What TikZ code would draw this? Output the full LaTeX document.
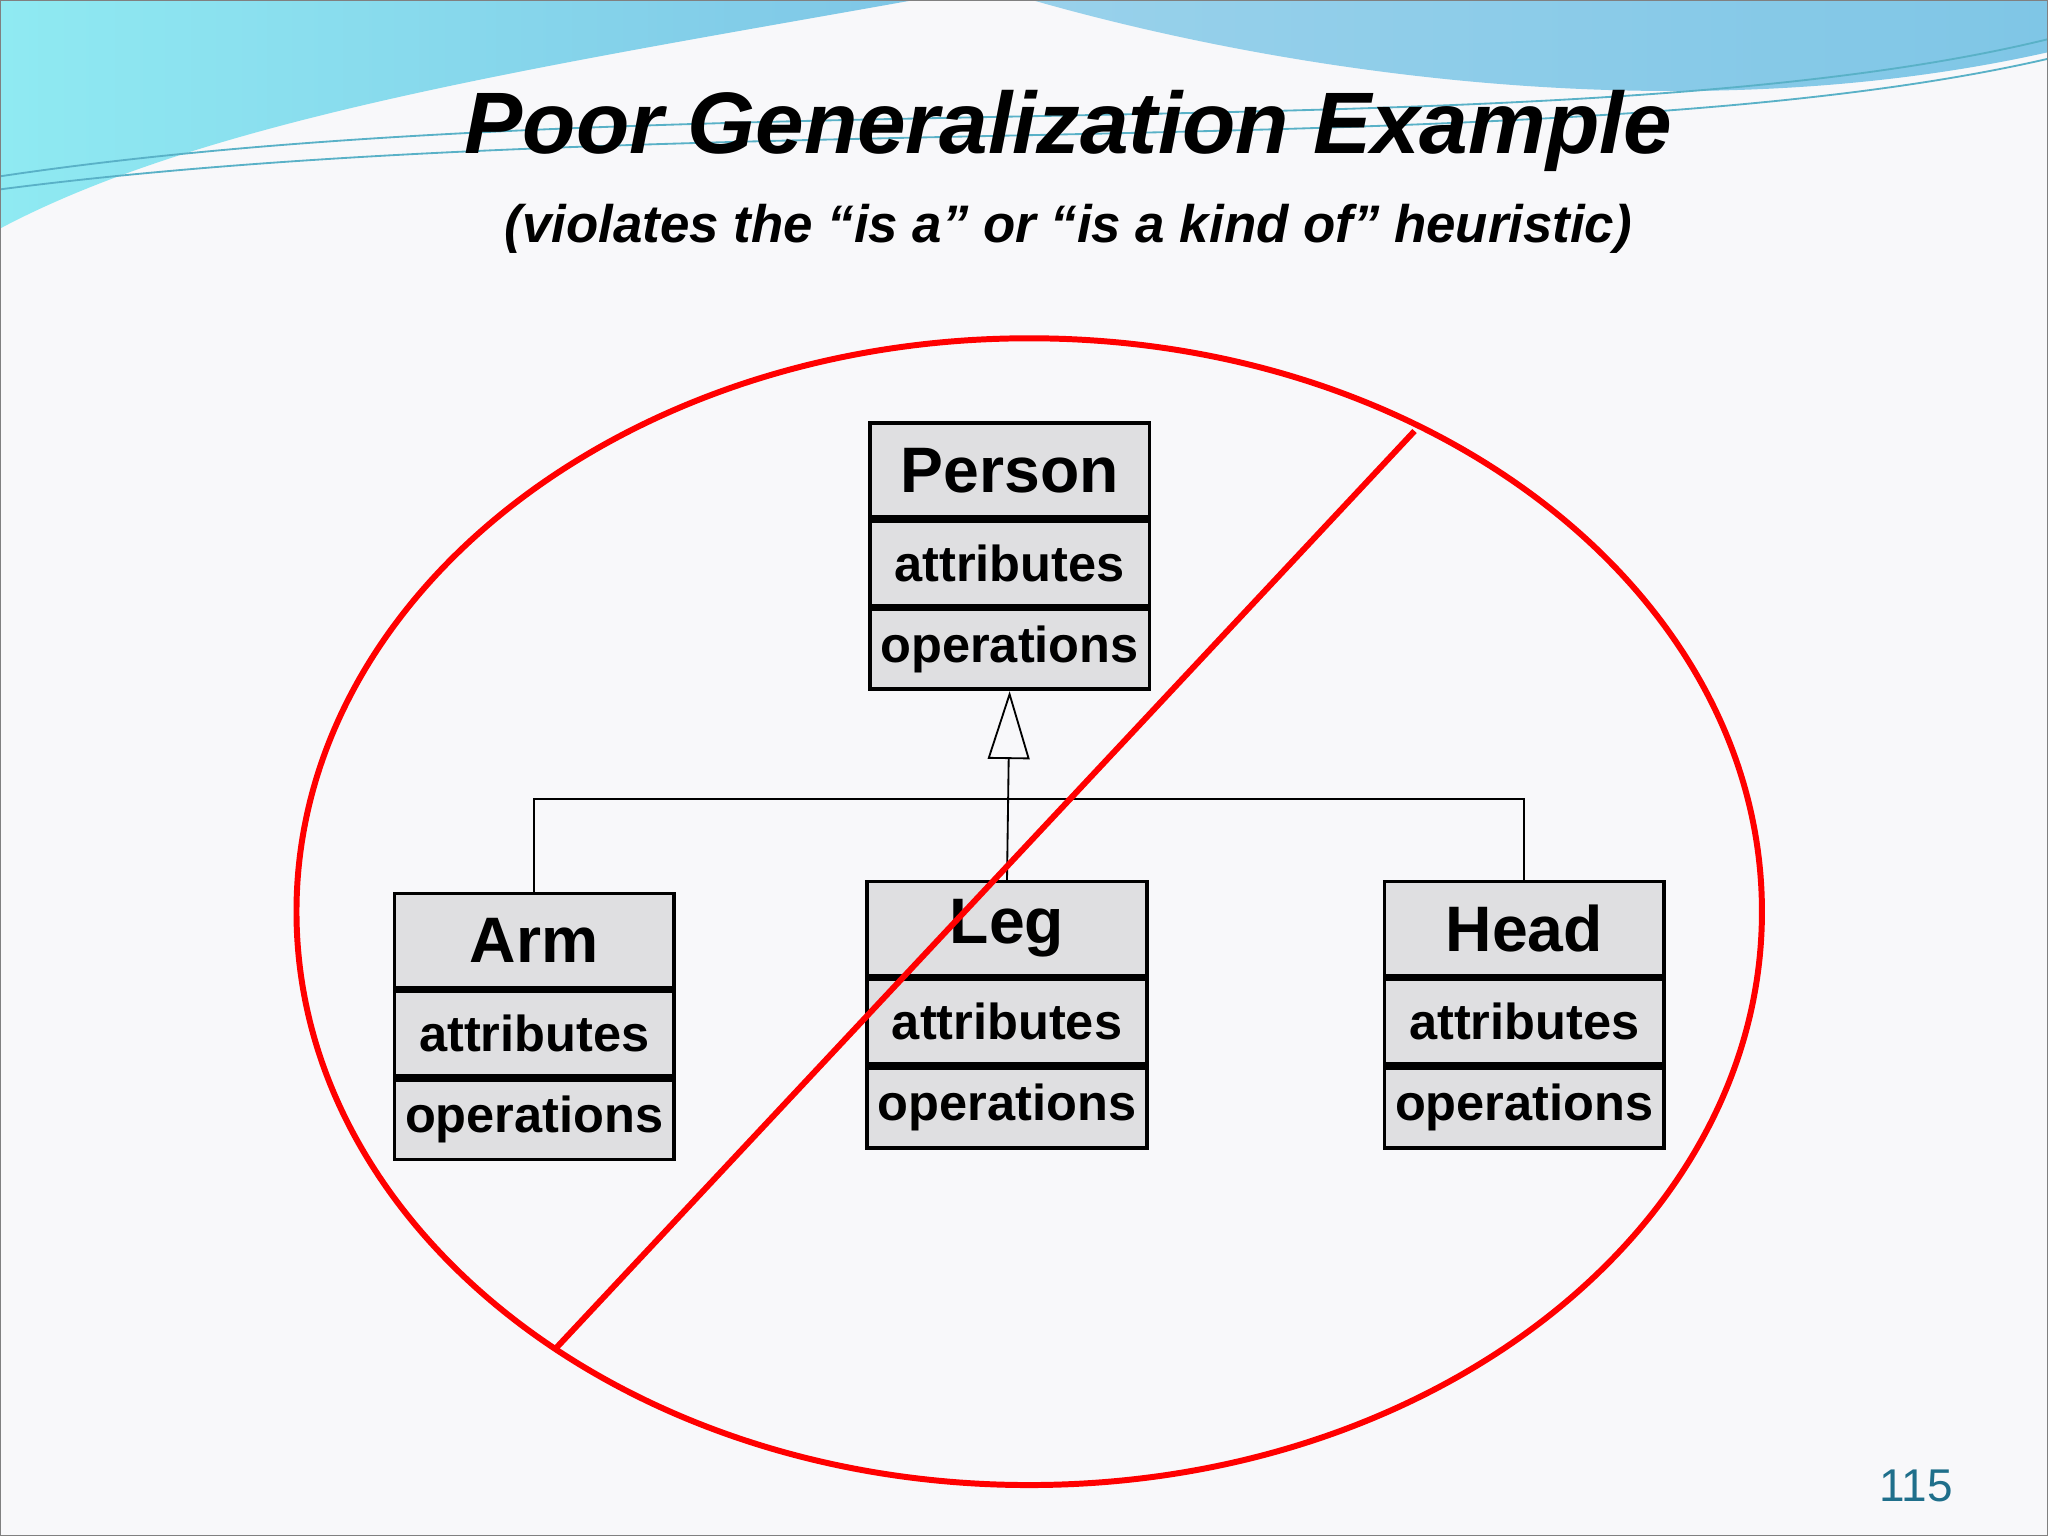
\documentclass[tikz,border=0pt]{standalone}
\usepackage{fontspec}
\setmainfont{Liberation Sans}
\usetikzlibrary{positioning,arrows.meta}
\definecolor{slidebg}{HTML}{F8F8FA}
\definecolor{boxgray}{HTML}{DFDFE1}
\definecolor{wavecyan}{HTML}{8FEAF2}
\definecolor{waveblue}{HTML}{7FC6E6}
\definecolor{pageteal}{HTML}{1F6F8B}
\tikzset{
  part/.style={draw, thick, fill=boxgray, minimum width=2.14cm, inner sep=0pt,
    font=\fontsize{11}{13}\selectfont\bfseries},
  title/.style={draw, thick, fill=boxgray, minimum width=2.14cm, minimum height=0.72cm,
    inner sep=0pt, font=\fontsize{14}{16}\selectfont\bfseries},
  attr/.style={part, minimum height=0.65cm},
  ops/.style={part, minimum height=0.61cm},
  cross/.style={red, line width=1.3pt}
}
\begin{document}
\begin{tikzpicture}[x=0.01cm, y=-0.01cm]
  \useasboundingbox (0,0) rectangle (1568,1176);
  \fill[slidebg] (0,0) rectangle (1568,1176);
  % top waves
  \shade[left color=wavecyan, right color=waveblue]
    (0,0) -- (700,0) .. controls (420,50) and (160,90) .. (0,175) -- cycle;
  \shade[left color=waveblue!80, right color=waveblue]
    (790,0) -- (1568,0) -- (1568,40) .. controls (1300,100) and (1000,60) .. (790,0) -- cycle;
  \draw[waveblue!70!teal, thin] (0,135) .. controls (500,60) and (1200,120) .. (1568,30);
  \draw[waveblue!70!teal, thin] (0,145) .. controls (500,80) and (1200,130) .. (1568,45);
  \draw[gray] (0,0) rectangle (1568,1176);

  \node (heading) at (818,100) {\fontsize{19}{22}\selectfont\bfseries\itshape Poor Generalization Example};
  \node[below=0pt of heading] (sub) {\fontsize{11.5}{14}\selectfont\bfseries\itshape (violates the “is a” or “is a kind of” heuristic)};

  % classes
  \node[title] (person) at (773,360) {Person};
  \node[attr, below=0pt of person] (personAttr) {attributes};
  \node[ops, below=0pt of personAttr] (personOps) {operations};

  \node[title] (arm) at (409,720) {Arm};
  \node[attr, below=0pt of arm] (armAttr) {attributes};
  \node[ops, below=0pt of armAttr] (armOps) {operations};

  \node[title] (leg) at (771,711) {Leg};
  \node[attr, below=0pt of leg] (legAttr) {attributes};
  \node[ops, below=0pt of legAttr] (legOps) {operations};

  \node[title] (head) at (1167,711) {Head};
  \node[attr, below=0pt of head] (headAttr) {attributes};
  \node[ops, below=0pt of headAttr] (headOps) {operations};

  % generalization
  \coordinate (bar) at (0,612);
  \draw (arm.north) |- (bar -| head.north) -- (head.north);
  \draw[-{Triangle[open, length=0.52cm, width=0.32cm]}] (leg.north) -- (personOps.south);

  % red ban sign
  \draw[cross] (788,698) ellipse (561 and 439);
  \coordinate (slashLow) at (424,1034);
  \coordinate (slashHigh) at (1083,330);
  \draw[cross] (slashLow) -- (slashHigh);

  \node[text=pageteal, font=\fontsize{10}{12}\selectfont] (pageno) at (1467,1138) {115};
\end{tikzpicture}
\end{document}
